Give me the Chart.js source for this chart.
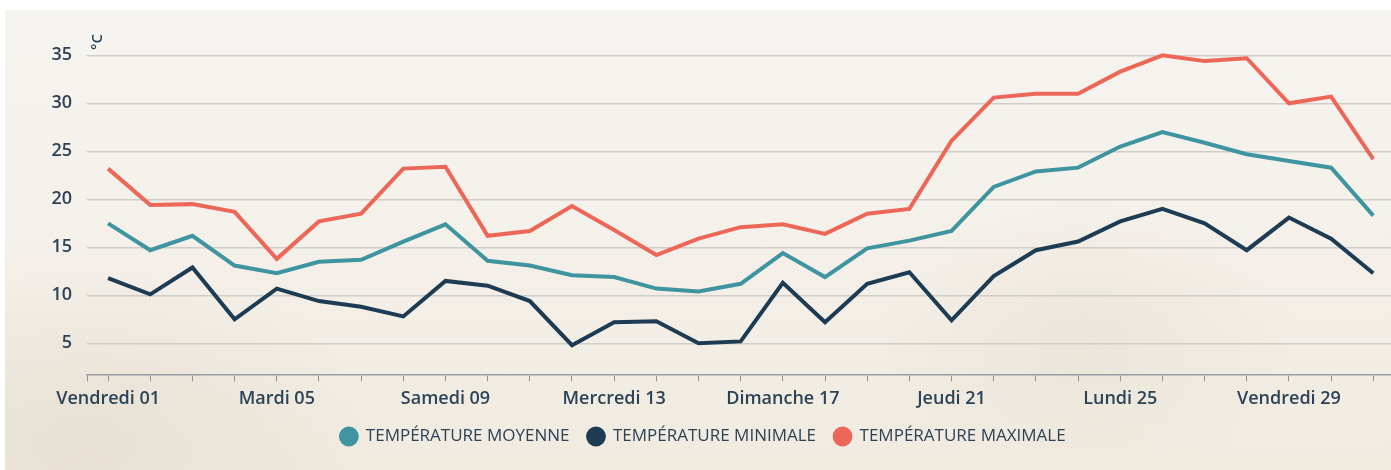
<!DOCTYPE html>
<html lang="fr">
<head>
<meta charset="utf-8">
<title>Températures</title>
<script src="https://cdn.jsdelivr.net/npm/chart.js@4.4.1/dist/chart.umd.min.js"></script>
<style>
  html, body { margin: 0; padding: 0; background: #fff; overflow: hidden; }
  #bg {
    position: absolute; left: 5px; top: 10px; width: 1386px; height: 460px;
    background:
      radial-gradient(ellipse 420px 260px at 80px 430px, rgba(220,211,196,0.45), rgba(220,211,196,0) 70%),
      radial-gradient(ellipse 300px 200px at 1080px 330px, rgba(222,214,199,0.35), rgba(222,214,199,0) 70%),
      linear-gradient(to bottom, #f6f4f0 0%, #f4f0e9 55%, #f0eadf 100%);
  }
  #wrap { position: absolute; left: 0; top: 0; width: 1391px; height: 470px; }
</style>
</head>
<body>
<div id="bg"></div>
<div id="wrap"><canvas id="temp-chart"></canvas></div>
<script>
// jours du mois
let days = [1, 2, 3, 4, 5, 6, 7, 8, 9, 10, 11, 12, 13, 14, 15, 16,
            17, 18, 19, 20, 21, 22, 23, 24, 25, 26, 27, 28, 29, 30, 31]

let labelDays = [1, 5, 9, 13, 17, 21, 25, 29]
let labelNames = ['Vendredi 01', 'Mardi 05', 'Samedi 09', 'Mercredi 13',
                  'Dimanche 17', 'Jeudi 21', 'Lundi 25', 'Vendredi 29']

let yTicks = [5, 10, 15, 20, 25, 30, 35]

let moyenne = [17.5, 14.7, 16.2, 13.1, 12.3, 13.5, 13.7, 15.6, 17.4, 13.6,
               13.1, 12.1, 11.9, 10.7, 10.4, 11.2, 14.4, 11.9, 14.9, 15.7,
               16.7, 21.3, 22.9, 23.3, 25.5, 27.0, 25.9, 24.7, 24.0, 23.3, 18.3]

let minimale = [11.8, 10.1, 12.9, 7.5, 10.7, 9.4, 8.8, 7.8, 11.5, 11.0,
                9.4, 4.8, 7.2, 7.3, 5.0, 5.2, 11.3, 7.2, 11.2, 12.4,
                7.4, 12.0, 14.7, 15.6, 17.7, 19.0, 17.5, 14.7, 18.1, 15.9, 12.3]

let maximale = [23.2, 19.4, 19.5, 18.7, 13.8, 17.7, 18.5, 23.2, 23.4, 16.2,
                16.7, 19.3, 16.8, 14.2, 15.9, 17.1, 17.4, 16.4, 18.5, 19.0,
                26.1, 30.6, 31.0, 31.0, 33.3, 35.0, 34.4, 34.7, 30.0, 30.7, 24.2]

let lineColors = ['#3e949f', '#1d3c54', '#ec6757']
let textColor = '#2c4357'

function toPoints(values) {
    return days.map((d, i) => ({ x: d, y: values[i] }))
}

let defaultDataset = {
    fill: false,
    tension: 0,
    borderWidth: 4,
    pointRadius: 0,
    pointHoverRadius: 0
}

const unitLabel = {
    id: 'unitLabel',
    afterDraw(chart) {
        const ctx = chart.ctx
        ctx.save()
        ctx.translate(98, 42)
        ctx.rotate(-Math.PI / 2)
        ctx.font = '600 15px "Open Sans"'
        ctx.fillStyle = textColor
        ctx.textAlign = 'center'
        ctx.textBaseline = 'middle'
        ctx.fillText('°C', 0, 0)
        ctx.restore()
    }
}

const datasets = [
    Object.assign({ label: 'TEMPÉRATURE MOYENNE', data: toPoints(moyenne),
        borderColor: lineColors[0], backgroundColor: lineColors[0] }, defaultDataset),
    Object.assign({ label: 'TEMPÉRATURE MINIMALE', data: toPoints(minimale),
        borderColor: lineColors[1], backgroundColor: lineColors[1] }, defaultDataset),
    Object.assign({ label: 'TEMPÉRATURE MAXIMALE', data: toPoints(maximale),
        borderColor: lineColors[2], backgroundColor: lineColors[2] }, defaultDataset)
]

const ctx = document.getElementById('temp-chart').getContext('2d')
const tempChart = new Chart(ctx, {
    type: 'line',
    data: { datasets: datasets },
    plugins: [unitLabel],
    options: {
        responsive: true,
        maintainAspectRatio: false,
        animation: false,
        layout: { padding: { left: 15, right: 0, top: 40, bottom: 15 } },
        plugins: {
            tooltip: { enabled: false },
            legend: {
                position: 'bottom',
                labels: {
                    usePointStyle: true,
                    pointStyle: 'circle',
                    boxHeight: 14,
                    boxWidth: 17,
                    padding: 18,
                    color: textColor,
                    font: { family: '"Open Sans"', size: 17, weight: '400' },
                    generateLabels: (chart) => Chart.defaults.plugins.legend.labels.generateLabels(chart)
                        .map(l => Object.assign(l, { lineWidth: 0, strokeStyle: 'rgba(0,0,0,0)' }))
                }
            }
        },
        scales: {
            x: {
                type: 'linear',
                min: 0.5,
                max: 31.42,
                afterBuildTicks: (scale) => {
                    scale.ticks = [0.5].concat(days).map(v => ({ value: v }))
                },
                afterFit: (scale) => { scale.height = 35.7 },
                grid: { drawOnChartArea: false, drawTicks: true, tickLength: 7, color: '#8e9296', lineWidth: 1 },
                border: { color: '#9a9ea2', width: 1.5 },
                ticks: {
                    autoSkip: false,
                    maxRotation: 0,
                    padding: 7,
                    color: textColor,
                    font: { family: '"Open Sans"', size: 18, weight: '600' },
                    callback: (v) => {
                        const k = labelDays.indexOf(v)
                        return k >= 0 ? labelNames[k] : ''
                    }
                }
            },
            y: {
                min: 1.77,
                max: 36.6,
                afterBuildTicks: (scale) => {
                    scale.ticks = yTicks.map(v => ({ value: v }))
                },
                afterFit: (scale) => { scale.width = 72 },
                grid: { drawTicks: false, color: '#cfcdca', lineWidth: 1.5 },
                border: { display: false },
                ticks: {
                    padding: 15,
                    color: textColor,
                    font: { family: '"Open Sans"', size: 18, weight: '600' }
                }
            }
        }
    }
})
</script>
</body>
</html>
